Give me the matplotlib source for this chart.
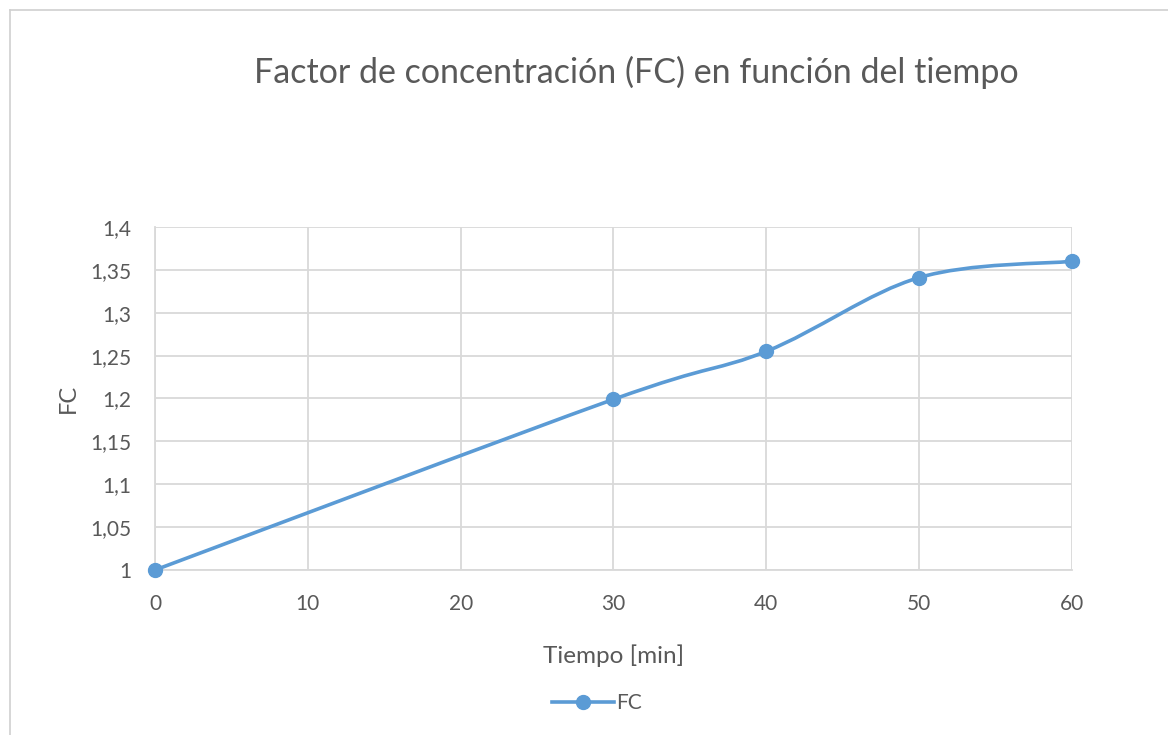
import matplotlib
matplotlib.use("Agg")
import matplotlib.pyplot as plt
from matplotlib.path import Path
from matplotlib.patches import PathPatch
from matplotlib.lines import Line2D
from matplotlib.ticker import FuncFormatter, MultipleLocator

# data
tiempo = [0, 30, 40, 50, 60]
fc = [1.0, 1.199, 1.255, 1.341, 1.360]

BLUE = "#5B9BD5"
GRID = "#D9D9D9"
TXT = "#595959"

plt.rcParams['font.family'] = ['Lato', 'DejaVu Sans']


def smooth_path(xs, ys):
    # excel-style smoothed line: bezier segments with catmull-rom control points
    verts = [(xs[0], ys[0])]
    codes = [Path.MOVETO]
    n = len(xs)
    for i in range(n - 1):
        x0, y0 = (xs[i - 1], ys[i - 1]) if i > 0 else (xs[i], ys[i])
        x1, y1 = xs[i], ys[i]
        x2, y2 = xs[i + 1], ys[i + 1]
        x3, y3 = (xs[i + 2], ys[i + 2]) if i + 2 < n else (x2, y2)
        c1 = (x1 + (x2 - x0) / 6, y1 + (y2 - y0) / 6)
        c2 = (x2 - (x3 - x1) / 6, y2 - (y3 - y1) / 6)
        verts += [c1, c2, (x2, y2)]
        codes += [Path.CURVE4] * 3
    return Path(verts, codes)


fig = plt.figure(figsize=(11.68, 7.35), dpi=100)
ax = fig.add_axes([0.1327, 0.2245, 0.7851, 0.4667])

ax.add_patch(PathPatch(smooth_path(tiempo, fc), facecolor="none", edgecolor=BLUE,
                       lw=2.6, capstyle="round", zorder=3))
ax.plot(tiempo, fc, "o", color=BLUE, ms=10, zorder=4, clip_on=False)

ax.set_xlim(0, 60)
ax.set_ylim(1, 1.4)
ax.xaxis.set_major_locator(MultipleLocator(10))
ax.yaxis.set_major_locator(MultipleLocator(0.05))
ax.yaxis.set_major_formatter(FuncFormatter(lambda v, p: ("%g" % round(v, 2)).replace(".", ",")))
ax.grid(True, color=GRID, lw=1.3)
ax.set_axisbelow(True)
for s in ax.spines.values():
    s.set_visible(False)
ax.spines["left"].set_visible(True)
ax.spines["bottom"].set_visible(True)
ax.spines["left"].set_color(GRID)
ax.spines["bottom"].set_color(GRID)
ax.spines["left"].set_linewidth(1.3)
ax.spines["bottom"].set_linewidth(1.3)
ax.tick_params(length=0, labelsize=15, colors=TXT)
ax.tick_params(axis="x", pad=17)
ax.tick_params(axis="y", pad=17)

ax.set_xlabel("Tiempo [min]", fontsize=17.5, color=TXT, labelpad=22)
ax.set_ylabel("FC", fontsize=17, color=TXT, labelpad=8)

fig.text(0.545, 0.902, "Factor de concentración (FC) en función del tiempo",
         ha="center", va="center", fontsize=24.5, color=TXT)

# legend
fig.legend(handles=[Line2D([], [], color=BLUE, lw=2.6, marker="o", ms=10)],
           labels=["FC"], loc="center", bbox_to_anchor=(0.511, 0.043),
           frameon=False, fontsize=15, labelcolor=TXT, handlelength=3.0,
           handletextpad=0.1)

# chart border
fig.add_artist(Line2D([10 / 1168, 10 / 1168], [0, 1 - 10 / 735],
                      transform=fig.transFigure, color="#D0D0D0", lw=1.2))
fig.add_artist(Line2D([10 / 1168, 1], [1 - 10 / 735, 1 - 10 / 735],
                      transform=fig.transFigure, color="#D0D0D0", lw=1.2))

fig.savefig("out.png", dpi=100)
